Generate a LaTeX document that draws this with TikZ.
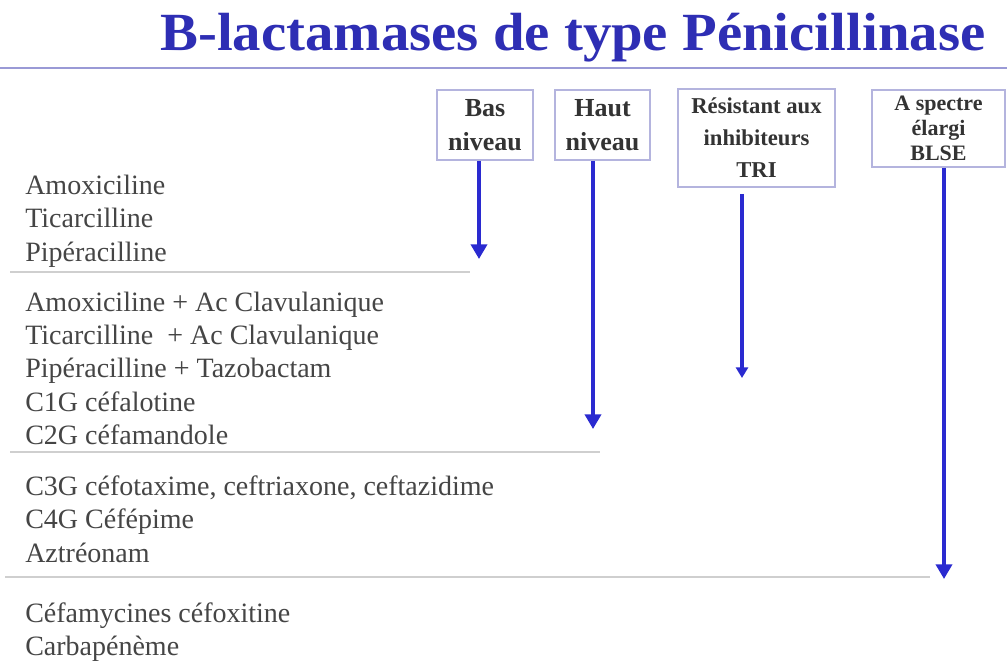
\documentclass[tikz,border=0pt]{standalone}
\usepackage{fontspec}
\setmainfont{Liberation Serif}
\usetikzlibrary{arrows.meta}
\definecolor{titleblue}{HTML}{2E2EB4}
\definecolor{rulecol}{HTML}{9A9AD6}
\definecolor{boxcol}{HTML}{B4B4DE}
\definecolor{arrcol}{HTML}{2A2AD0}
\definecolor{sepcol}{HTML}{CFCFCF}
\definecolor{txtcol}{HTML}{454545}
\definecolor{boxtxt}{HTML}{333333}
\begin{document}
\begin{tikzpicture}[x=0.75pt,y=-0.75pt,
  hdrbox/.style={draw=boxcol,line width=1.3pt,fill=white,inner sep=0pt,align=center,text=boxtxt},
  item/.style={anchor=base west,inner sep=0pt,text=txtcol,font=\fontsize{21}{24}\selectfont},
  sepline/.style={draw=sepcol,line width=1.4pt},
  bigarr/.style={draw=arrcol,line width=3.4pt,-{Triangle[length=11pt,width=12pt]}},
  smallarr/.style={draw=arrcol,line width=2.6pt,-{Triangle[length=8pt,width=9pt]}}]
\useasboundingbox (0,0) rectangle (1007,662);
\fill[white] (0,0) rectangle (1007,662);
% title
\node[anchor=base west,inner sep=0pt,text=titleblue] (title) at (160,50)
  {\resizebox{618.75pt}{28pt}{\bfseries B-lactamases de type Pénicillinase}};
\coordinate (rl) at (0,68);
\coordinate (rr) at (1007,68);
\draw[draw=rulecol,line width=2.2pt] (rl) -- (rr);
% header boxes
\node[hdrbox,minimum width=72pt,minimum height=52.5pt,font=\fontsize{19.5}{25}\selectfont\bfseries] (bas) at (485,125) {Bas\\niveau};
\node[hdrbox,minimum width=71.25pt,minimum height=52.5pt,font=\fontsize{19.5}{25}\selectfont\bfseries] (haut) at (602.5,125) {Haut\\niveau};
\node[hdrbox,minimum width=117.75pt,minimum height=73.5pt,font=\fontsize{17}{24}\selectfont\bfseries] (tri) at (756.5,138) {Résistant aux\\inhibiteurs\\TRI};
\node[hdrbox,minimum width=99.75pt,minimum height=57.75pt,font=\fontsize{16.5}{18.75}\selectfont\bfseries] (blse) at (938.5,128.5) {A spectre\\élargi\\BLSE};
% arrow ends
\coordinate (basend) at (479,259);
\coordinate (hautend) at (593,429);
\coordinate (triend) at (742,378);
\coordinate (blseend) at (944,579);
\draw[bigarr] (bas.south -| basend) -- (basend);
\draw[bigarr] (haut.south -| hautend) -- (hautend);
\draw[smallarr,shorten <=4.5pt] (tri.south -| triend) -- (triend);
\draw[bigarr] (blse.south -| blseend) -- (blseend);
% separators
\coordinate (s1a) at (10,272); \coordinate (s1b) at (470,272);
\coordinate (s2a) at (10,452); \coordinate (s2b) at (600,452);
\coordinate (s3a) at (5,577);  \coordinate (s3b) at (930,577);
\draw[sepline] (s1a) -- (s1b);
\draw[sepline] (s2a) -- (s2b);
\draw[sepline] (s3a) -- (s3b);
% drug list
\node[item] (d1) at (25,194) {Amoxiciline};
\node[item] (d2) at (25,227) {Ticarcilline};
\node[item] (d3) at (25,261) {Pipéracilline};
\node[item] (d4) at (25,311) {Amoxiciline + Ac Clavulanique};
\node[item] (d5) at (25,344) {Ticarcilline \ + Ac Clavulanique};
\node[item] (d6) at (25,377) {Pipéracilline + Tazobactam};
\node[item] (d7) at (25,411) {C1G céfalotine};
\node[item] (d8) at (25,444) {C2G céfamandole};
\node[item] (d9) at (25,495) {C3G céfotaxime, ceftriaxone, ceftazidime};
\node[item] (d10) at (25,528) {C4G Céfépime};
\node[item] (d11) at (25,562) {Aztréonam};
\node[item] (d12) at (25,622) {Céfamycines céfoxitine};
\node[item] (d13) at (25,655) {Carbapénème};
\end{tikzpicture}
\end{document}
